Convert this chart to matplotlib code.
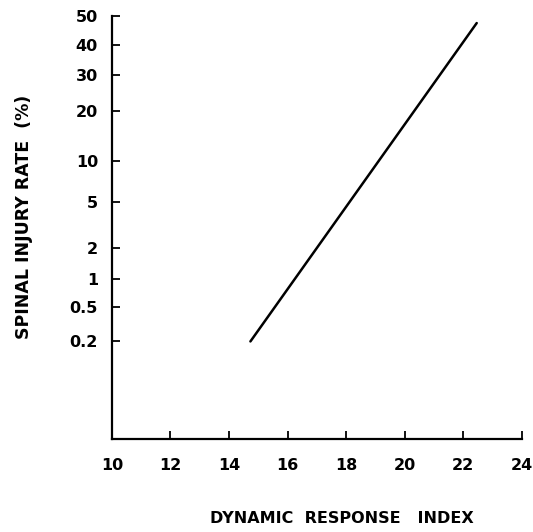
"""Spinal injury rate vs dynamic response index on a probability (probit) scale."""
from statistics import NormalDist

import matplotlib
matplotlib.use("Agg")
import matplotlib.pyplot as plt
import numpy as np

# line end points
dri = [14.73, 22.46]
injury_rate = [0.2, 47.5]  # percent

x_ticks = [10, 12, 14, 16, 18, 20, 22, 24]
y_ticks = [0.2, 0.5, 1, 2, 5, 10, 20, 30, 40, 50]
y_tick_labels = ["0.2", "0.5", "1", "2", "5", "10", "20", "30", "40", "50"]

_nd = NormalDist()
_ppf = np.vectorize(_nd.inv_cdf, otypes=[float])
_cdf = np.vectorize(_nd.cdf, otypes=[float])


def _probit(p):
    p = np.clip(np.asarray(p, dtype=float) / 100.0, 1e-9, 1 - 1e-9)
    return _ppf(p)


def _inv_probit(z):
    return _cdf(np.asarray(z, dtype=float)) * 100.0


plt.rcParams["font.family"] = ["DejaVu Sans"]

fig = plt.figure(figsize=(5.33, 5.32), dpi=100)
ax = fig.add_axes([0.21, 0.175, 0.769, 0.795])

ax.plot(dri, injury_rate, color="black", lw=1.8, solid_capstyle="round")

ax.set_yscale("function", functions=(_probit, _inv_probit))
ax.set_ylim(0.0092, 50)
ax.set_xlim(10, 24)

ax.set_xticks(x_ticks)
ax.set_yticks(y_ticks)
ax.set_yticklabels(y_tick_labels)
ax.minorticks_off()

for side in ("top", "right"):
    ax.spines[side].set_visible(False)
for side in ("left", "bottom"):
    ax.spines[side].set_linewidth(1.6)

ax.tick_params(axis="both", direction="in", length=6, width=1.3,
               labelsize=11.5, colors="black")
ax.tick_params(axis="x", pad=14)
ax.tick_params(axis="y", pad=10)
for lbl in ax.get_xticklabels() + ax.get_yticklabels():
    lbl.set_fontweight("bold")

fig.text(0.642, 0.026, "DYNAMIC  RESPONSE   INDEX", ha="center", va="center",
         fontsize=11.5, fontweight="bold")
fig.text(0.045, 0.592, "SPINAL INJURY RATE  (%)", ha="center", va="center",
         rotation=90, fontsize=12.5, fontweight="bold")

plt.savefig("out.png", dpi=100)
plt.close(fig)
